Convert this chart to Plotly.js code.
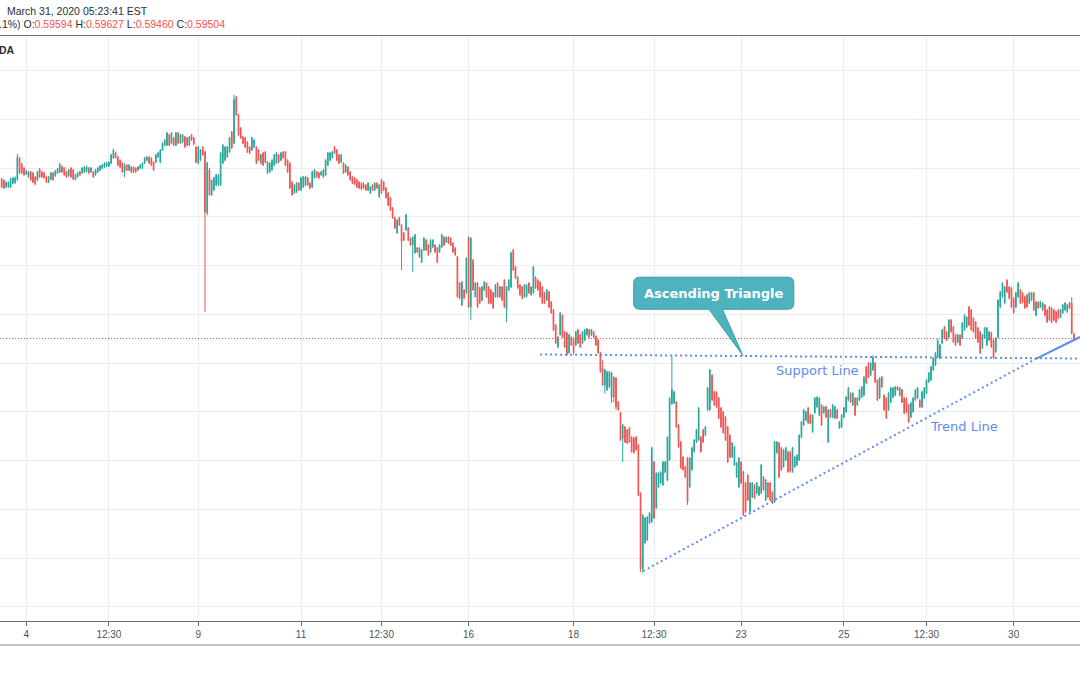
<!DOCTYPE html>
<html><head><meta charset="utf-8">
<script src="https://cdn.plot.ly/plotly-3.0.1.min.js"></script>
<style>html,body{margin:0;padding:0;background:#fff;}#chart{width:1080px;height:675px;}</style>
</head><body><div id="chart"></div>
<script>
// NZD/USD hourly candles (OANDA), early to 31 March 2020
const openPrice = [
0.6278,0.6275,0.6261,0.6262,0.6261,0.6269,0.6270,0.6276,0.6320,0.6308,
0.6300,0.6288,0.6282,0.6292,0.6290,0.6282,0.6275,0.6298,0.6292,0.6290,
0.6282,0.6271,0.6277,0.6290,0.6284,0.6290,0.6292,0.6302,0.6300,0.6292,
0.6284,0.6300,0.6296,0.6277,0.6282,0.6292,0.6290,0.6292,0.6293,0.6300,
0.6292,0.6292,0.6286,0.6292,0.6296,0.6300,0.6302,0.6304,0.6304,0.6310,
0.6321,0.6331,0.6323,0.6316,0.6310,0.6292,0.6306,0.6296,0.6302,0.6301,
0.6300,0.6296,0.6300,0.6300,0.6310,0.6316,0.6322,0.6320,0.6312,0.6312,
0.6323,0.6312,0.6337,0.6347,0.6347,0.6368,0.6351,0.6362,0.6347,0.6372,
0.6351,0.6353,0.6364,0.6362,0.6347,0.6368,0.6362,0.6343,0.6310,0.6316,
0.6343,0.6333,0.6208,0.6296,0.6245,0.6255,0.6265,0.6267,0.6265,0.6310,
0.6316,0.6323,0.6333,0.6374,0.6351,0.6446,0.6409,0.6382,0.6364,0.6362,
0.6353,0.6343,0.6337,0.6343,0.6343,0.6337,0.6310,0.6331,0.6333,0.6290,
0.6292,0.6296,0.6306,0.6310,0.6327,0.6316,0.6333,0.6333,0.6316,0.6310,
0.6271,0.6249,0.6251,0.6269,0.6255,0.6261,0.6265,0.6280,0.6269,0.6261,
0.6280,0.6292,0.6290,0.6286,0.6282,0.6286,0.6306,0.6316,0.6321,0.6343,
0.6337,0.6327,0.6312,0.6310,0.6292,0.6302,0.6292,0.6282,0.6280,0.6276,
0.6271,0.6269,0.6268,0.6265,0.6255,0.6249,0.6265,0.6255,0.6269,0.6241,
0.6276,0.6271,0.6259,0.6249,0.6239,0.6218,0.6198,0.6167,0.6198,0.6183,
0.6167,0.6173,0.6177,0.6156,0.6142,0.6126,0.6136,0.6118,0.6107,0.6132,
0.6152,0.6142,0.6128,0.6138,0.6142,0.6136,0.6128,0.6138,0.6158,0.6148,
0.6158,0.6156,0.6146,0.6136,0.6118,0.6064,0.6019,0.6050,0.6044,0.6158,
0.6015,0.6111,0.6036,0.6064,0.6054,0.6029,0.6050,0.6064,0.6056,0.6050,
0.6044,0.6036,0.6064,0.6036,0.6056,0.6070,0.6010,0.6050,0.6056,0.6132,
0.6097,0.6076,0.6060,0.6056,0.6036,0.6037,0.6064,0.6040,0.6044,0.6076,
0.6070,0.6066,0.6056,0.6044,0.6029,0.6046,0.6025,0.6009,0.5978,0.5933,
0.5958,0.5998,0.5964,0.5962,0.5921,0.5953,0.5951,0.5937,0.5968,0.5958,
0.5941,0.5947,0.5958,0.5968,0.5957,0.5964,0.5955,0.5947,0.5921,0.5890,
0.5855,0.5845,0.5851,0.5830,0.5871,0.5869,0.5820,0.5798,0.5745,0.5769,
0.5763,0.5767,0.5748,0.5746,0.5748,0.5732,0.5633,0.5478,0.5531,0.5537,
0.5572,0.5574,0.5697,0.5603,0.5646,0.5654,0.5650,0.5676,0.5660,0.5701,
0.5816,0.5818,0.5820,0.5773,0.5738,0.5707,0.5687,0.5705,0.5646,0.5681,
0.5718,0.5738,0.5742,0.5748,0.5763,0.5752,0.5804,0.5804,0.5875,0.5841,
0.5840,0.5828,0.5808,0.5800,0.5789,0.5769,0.5752,0.5707,0.5691,0.5666,
0.5646,0.5697,0.5677,0.5654,0.5670,0.5595,0.5625,0.5650,0.5633,0.5629,
0.5633,0.5666,0.5619,0.5654,0.5654,0.5635,0.5615,0.5716,0.5736,0.5726,
0.5687,0.5701,0.5718,0.5716,0.5677,0.5687,0.5691,0.5701,0.5748,0.5773,
0.5783,0.5808,0.5793,0.5759,0.5798,0.5810,0.5793,0.5814,0.5798,0.5810,
0.5738,0.5804,0.5789,0.5787,0.5804,0.5767,0.5769,0.5789,0.5800,0.5824,
0.5838,0.5814,0.5828,0.5814,0.5824,0.5830,0.5834,0.5892,0.5900,0.5875,
0.5886,0.5900,0.5865,0.5828,0.5871,0.5834,0.5828,0.5804,0.5820,0.5830,
0.5834,0.5851,0.5834,0.5845,0.5828,0.5826,0.5814,0.5789,0.5800,0.5824,
0.5828,0.5824,0.5810,0.5828,0.5838,0.5861,0.5865,0.5886,0.5896,0.5912,
0.5910,0.5941,0.5974,0.5964,0.5953,0.5988,0.5974,0.5958,0.5943,0.5957,
0.5951,0.5968,0.5974,0.6015,0.6009,0.5992,0.5984,0.5972,0.5964,0.5931,
0.5951,0.5937,0.5947,0.5962,0.5947,0.5923,0.5953,0.6015,0.6036,0.6023,
0.6070,0.6056,0.6054,0.6033,0.6015,0.6036,0.6050,0.6044,0.6036,0.6040,
0.6023,0.6029,0.6044,0.5998,0.6025,0.6015,0.6009,0.6019,0.6009,0.6015,
0.6013,0.6009,0.6005,0.6009,0.5994,0.6003,0.6009,0.6005,0.6023,0.6023,
0.59594];
const highPrice = [
0.6280,0.6277,0.6273,0.6273,0.6280,0.6282,0.6283,0.6329,0.6323,0.6311,
0.6302,0.6296,0.6294,0.6294,0.6292,0.6284,0.6294,0.6300,0.6294,0.6292,
0.6284,0.6284,0.6292,0.6292,0.6296,0.6300,0.6310,0.6306,0.6302,0.6294,
0.6298,0.6302,0.6298,0.6288,0.6292,0.6294,0.6302,0.6304,0.6305,0.6302,
0.6302,0.6294,0.6298,0.6302,0.6306,0.6308,0.6312,0.6313,0.6314,0.6329,
0.6340,0.6334,0.6325,0.6318,0.6312,0.6310,0.6308,0.6308,0.6304,0.6304,
0.6302,0.6304,0.6308,0.6312,0.6323,0.6325,0.6325,0.6322,0.6314,0.6329,
0.6333,0.6339,0.6353,0.6360,0.6374,0.6370,0.6374,0.6364,0.6374,0.6374,
0.6370,0.6370,0.6366,0.6364,0.6366,0.6370,0.6364,0.6345,0.6345,0.6339,
0.6345,0.6336,0.6313,0.6300,0.6277,0.6282,0.6288,0.6288,0.6333,0.6349,
0.6345,0.6345,0.6364,0.6376,0.6450,0.6448,0.6411,0.6384,0.6366,0.6364,
0.6355,0.6345,0.6364,0.6360,0.6345,0.6339,0.6329,0.6333,0.6335,0.6314,
0.6312,0.6318,0.6329,0.6333,0.6329,0.6333,0.6335,0.6335,0.6318,0.6312,
0.6273,0.6267,0.6271,0.6271,0.6282,0.6284,0.6284,0.6282,0.6271,0.6294,
0.6298,0.6294,0.6292,0.6294,0.6298,0.6318,0.6333,0.6333,0.6335,0.6345,
0.6339,0.6329,0.6329,0.6312,0.6308,0.6304,0.6294,0.6284,0.6282,0.6278,
0.6273,0.6271,0.6271,0.6267,0.6271,0.6263,0.6267,0.6271,0.6271,0.6267,
0.6278,0.6273,0.6261,0.6251,0.6241,0.6220,0.6200,0.6195,0.6200,0.6185,
0.6169,0.6206,0.6179,0.6158,0.6160,0.6165,0.6138,0.6138,0.6134,0.6158,
0.6154,0.6144,0.6154,0.6154,0.6144,0.6138,0.6144,0.6165,0.6160,0.6160,
0.6160,0.6158,0.6148,0.6138,0.6120,0.6066,0.6068,0.6052,0.6117,0.6160,
0.6158,0.6113,0.6066,0.6066,0.6056,0.6058,0.6068,0.6066,0.6058,0.6052,
0.6046,0.6062,0.6066,0.6058,0.6058,0.6072,0.6058,0.6072,0.6128,0.6134,
0.6099,0.6078,0.6062,0.6058,0.6062,0.6062,0.6066,0.6058,0.6099,0.6078,
0.6072,0.6068,0.6058,0.6046,0.6052,0.6048,0.6027,0.6011,0.5980,0.5955,
0.6005,0.6000,0.5966,0.5964,0.5960,0.5955,0.5953,0.5966,0.5970,0.5960,
0.5966,0.5970,0.5972,0.5970,0.5970,0.5966,0.5957,0.5949,0.5923,0.5906,
0.5888,0.5884,0.5884,0.5882,0.5873,0.5871,0.5822,0.5800,0.5775,0.5771,
0.5765,0.5769,0.5750,0.5748,0.5750,0.5734,0.5635,0.5590,0.5584,0.5586,
0.5594,0.5728,0.5699,0.5676,0.5676,0.5678,0.5699,0.5699,0.5750,0.5830,
0.5916,0.5843,0.5822,0.5775,0.5740,0.5709,0.5689,0.5707,0.5707,0.5728,
0.5744,0.5765,0.5810,0.5750,0.5765,0.5771,0.5851,0.5888,0.5877,0.5843,
0.5842,0.5830,0.5810,0.5802,0.5791,0.5771,0.5754,0.5738,0.5730,0.5697,
0.5707,0.5699,0.5679,0.5656,0.5672,0.5656,0.5656,0.5652,0.5656,0.5648,
0.5693,0.5668,0.5662,0.5656,0.5656,0.5637,0.5740,0.5740,0.5738,0.5728,
0.5724,0.5728,0.5720,0.5720,0.5728,0.5709,0.5713,0.5754,0.5781,0.5806,
0.5802,0.5810,0.5795,0.5795,0.5830,0.5832,0.5830,0.5816,0.5812,0.5812,
0.5806,0.5806,0.5816,0.5812,0.5806,0.5781,0.5795,0.5810,0.5832,0.5851,
0.5840,0.5840,0.5830,0.5830,0.5847,0.5853,0.5873,0.5894,0.5902,0.5902,
0.5916,0.5902,0.5867,0.5871,0.5873,0.5836,0.5830,0.5840,0.5851,0.5851,
0.5853,0.5853,0.5851,0.5847,0.5830,0.5830,0.5816,0.5820,0.5830,0.5847,
0.5851,0.5826,0.5843,0.5851,0.5867,0.5882,0.5894,0.5912,0.5923,0.5949,
0.5939,0.5970,0.5976,0.5966,0.5990,0.5990,0.5976,0.5960,0.5960,0.5959,
0.5984,0.6000,0.5996,0.6017,0.6011,0.5994,0.5986,0.5974,0.5966,0.5960,
0.5974,0.5974,0.5966,0.5964,0.5949,0.5953,0.6031,0.6048,0.6066,0.6058,
0.6072,0.6058,0.6056,0.6035,0.6046,0.6066,0.6052,0.6046,0.6038,0.6042,
0.6046,0.6046,0.6046,0.6027,0.6027,0.6027,0.6025,0.6021,0.6011,0.6017,
0.6015,0.6011,0.6007,0.6011,0.6011,0.6021,0.6025,0.6021,0.6025,0.6035,
0.59627];
const lowPrice = [
0.6259,0.6257,0.6259,0.6259,0.6259,0.6267,0.6267,0.6274,0.6288,0.6288,
0.6284,0.6286,0.6280,0.6274,0.6269,0.6265,0.6273,0.6280,0.6280,0.6278,
0.6269,0.6269,0.6275,0.6274,0.6282,0.6288,0.6290,0.6290,0.6284,0.6280,
0.6282,0.6280,0.6275,0.6275,0.6280,0.6284,0.6288,0.6290,0.6291,0.6288,
0.6290,0.6280,0.6284,0.6290,0.6294,0.6298,0.6300,0.6302,0.6302,0.6308,
0.6319,0.6319,0.6304,0.6300,0.6290,0.6281,0.6294,0.6294,0.6290,0.6290,
0.6290,0.6294,0.6298,0.6298,0.6308,0.6314,0.6308,0.6304,0.6294,0.6310,
0.6321,0.6310,0.6335,0.6345,0.6345,0.6345,0.6349,0.6345,0.6345,0.6349,
0.6349,0.6351,0.6341,0.6345,0.6345,0.6356,0.6347,0.6310,0.6308,0.6314,
0.6325,0.6005,0.6203,0.6243,0.6243,0.6253,0.6263,0.6263,0.6263,0.6308,
0.6314,0.6321,0.6331,0.6339,0.6349,0.6407,0.6366,0.6360,0.6349,0.6341,
0.6331,0.6329,0.6335,0.6341,0.6308,0.6314,0.6308,0.6304,0.6310,0.6288,
0.6290,0.6294,0.6304,0.6308,0.6310,0.6314,0.6319,0.6304,0.6290,0.6257,
0.6243,0.6247,0.6249,0.6253,0.6253,0.6259,0.6263,0.6263,0.6257,0.6259,
0.6278,0.6280,0.6278,0.6284,0.6280,0.6284,0.6304,0.6314,0.6319,0.6329,
0.6314,0.6308,0.6310,0.6288,0.6290,0.6284,0.6274,0.6267,0.6265,0.6259,
0.6257,0.6255,0.6257,0.6253,0.6253,0.6247,0.6253,0.6253,0.6257,0.6239,
0.6247,0.6253,0.6237,0.6222,0.6212,0.6196,0.6175,0.6165,0.6181,0.6091,
0.6150,0.6171,0.6150,0.6140,0.6087,0.6124,0.6126,0.6116,0.6105,0.6130,
0.6130,0.6120,0.6126,0.6136,0.6126,0.6105,0.6126,0.6136,0.6140,0.6146,
0.6144,0.6140,0.6126,0.6120,0.6034,0.6031,0.6017,0.6031,0.6042,0.6013,
0.5988,0.6048,0.6034,0.6013,0.6021,0.6027,0.6048,0.6034,0.6021,0.6021,
0.6011,0.6034,0.6034,0.6034,0.6027,0.6013,0.5984,0.6048,0.6054,0.6089,
0.6072,0.6052,0.6038,0.6031,0.6034,0.6034,0.6042,0.6038,0.6042,0.6052,
0.6048,0.6034,0.6021,0.6021,0.6027,0.6013,0.6001,0.5966,0.5939,0.5931,
0.5956,0.5951,0.5931,0.5915,0.5919,0.5935,0.5917,0.5935,0.5939,0.5931,
0.5939,0.5945,0.5956,0.5951,0.5955,0.5951,0.5935,0.5919,0.5880,0.5853,
0.5838,0.5843,0.5849,0.5818,0.5820,0.5804,0.5802,0.5740,0.5697,0.5736,
0.5734,0.5736,0.5716,0.5714,0.5720,0.5627,0.5471,0.5469,0.5529,0.5535,
0.5570,0.5572,0.5580,0.5601,0.5644,0.5652,0.5648,0.5674,0.5658,0.5699,
0.5814,0.5816,0.5767,0.5726,0.5683,0.5679,0.5664,0.5609,0.5644,0.5679,
0.5716,0.5736,0.5740,0.5716,0.5736,0.5750,0.5802,0.5802,0.5822,0.5812,
0.5808,0.5785,0.5767,0.5755,0.5740,0.5695,0.5705,0.5705,0.5689,0.5664,
0.5644,0.5652,0.5586,0.5593,0.5617,0.5593,0.5623,0.5621,0.5631,0.5627,
0.5631,0.5638,0.5617,0.5623,0.5617,0.5611,0.5613,0.5714,0.5664,0.5679,
0.5685,0.5699,0.5675,0.5675,0.5675,0.5685,0.5689,0.5699,0.5746,0.5771,
0.5781,0.5775,0.5775,0.5757,0.5796,0.5808,0.5791,0.5771,0.5796,0.5787,
0.5736,0.5787,0.5787,0.5785,0.5785,0.5765,0.5767,0.5787,0.5798,0.5822,
0.5818,0.5812,0.5791,0.5812,0.5822,0.5828,0.5832,0.5857,0.5869,0.5873,
0.5884,0.5859,0.5822,0.5826,0.5849,0.5802,0.5785,0.5802,0.5818,0.5828,
0.5832,0.5843,0.5832,0.5818,0.5795,0.5797,0.5777,0.5787,0.5798,0.5822,
0.5826,0.5808,0.5808,0.5826,0.5836,0.5859,0.5863,0.5884,0.5894,0.5910,
0.5908,0.5939,0.5949,0.5945,0.5951,0.5962,0.5941,0.5935,0.5941,0.5935,
0.5949,0.5966,0.5972,0.5976,0.5966,0.5962,0.5949,0.5941,0.5919,0.5929,
0.5949,0.5935,0.5945,0.5931,0.5908,0.5921,0.5951,0.6013,0.6034,0.6021,
0.6044,0.6031,0.6013,0.6001,0.6013,0.6034,0.6021,0.6023,0.6011,0.6013,
0.6021,0.6027,0.6007,0.5996,0.6011,0.6013,0.6007,0.5996,0.5982,0.5986,
0.5982,0.5986,0.5982,0.5990,0.5992,0.6001,0.6007,0.6003,0.6011,0.5959,
0.59460];
const closePrice = [
0.6261,0.6259,0.6271,0.6270,0.6278,0.6280,0.6279,0.6322,0.6290,0.6290,
0.6286,0.6294,0.6292,0.6276,0.6271,0.6267,0.6292,0.6282,0.6282,0.6280,
0.6271,0.6282,0.6290,0.6276,0.6294,0.6298,0.6308,0.6292,0.6286,0.6282,
0.6296,0.6282,0.6277,0.6286,0.6290,0.6286,0.6300,0.6302,0.6302,0.6290,
0.6300,0.6282,0.6296,0.6300,0.6304,0.6306,0.6310,0.6310,0.6312,0.6327,
0.6337,0.6321,0.6306,0.6302,0.6292,0.6306,0.6296,0.6306,0.6292,0.6293,
0.6292,0.6302,0.6306,0.6310,0.6321,0.6322,0.6310,0.6306,0.6296,0.6327,
0.6331,0.6337,0.6351,0.6357,0.6372,0.6347,0.6372,0.6347,0.6372,0.6351,
0.6368,0.6368,0.6343,0.6347,0.6364,0.6358,0.6349,0.6312,0.6343,0.6337,
0.6327,0.6210,0.6310,0.6245,0.6275,0.6280,0.6286,0.6285,0.6331,0.6347,
0.6343,0.6343,0.6362,0.6341,0.6440,0.6409,0.6368,0.6362,0.6351,0.6343,
0.6333,0.6331,0.6362,0.6357,0.6310,0.6316,0.6327,0.6306,0.6312,0.6312,
0.6310,0.6316,0.6327,0.6331,0.6312,0.6331,0.6321,0.6306,0.6292,0.6259,
0.6245,0.6265,0.6269,0.6255,0.6280,0.6282,0.6282,0.6265,0.6259,0.6292,
0.6296,0.6282,0.6280,0.6292,0.6296,0.6316,0.6331,0.6331,0.6333,0.6331,
0.6316,0.6310,0.6327,0.6290,0.6306,0.6286,0.6276,0.6269,0.6267,0.6261,
0.6259,0.6257,0.6259,0.6255,0.6269,0.6261,0.6255,0.6269,0.6259,0.6265,
0.6249,0.6255,0.6239,0.6224,0.6214,0.6198,0.6177,0.6193,0.6183,0.6150,
0.6152,0.6204,0.6152,0.6142,0.6158,0.6163,0.6128,0.6136,0.6132,0.6156,
0.6132,0.6122,0.6152,0.6152,0.6128,0.6107,0.6142,0.6163,0.6142,0.6158,
0.6146,0.6142,0.6128,0.6122,0.6036,0.6033,0.6066,0.6033,0.6115,0.6015,
0.6156,0.6050,0.6064,0.6015,0.6023,0.6056,0.6066,0.6036,0.6023,0.6023,
0.6013,0.6060,0.6036,0.6056,0.6029,0.6015,0.6056,0.6070,0.6126,0.6091,
0.6074,0.6054,0.6040,0.6033,0.6060,0.6059,0.6044,0.6056,0.6097,0.6054,
0.6050,0.6036,0.6023,0.6023,0.6050,0.6015,0.6003,0.5968,0.5941,0.5953,
0.6002,0.5953,0.5933,0.5917,0.5958,0.5937,0.5921,0.5964,0.5941,0.5933,
0.5964,0.5968,0.5970,0.5953,0.5968,0.5953,0.5937,0.5921,0.5882,0.5855,
0.5886,0.5882,0.5882,0.5880,0.5830,0.5810,0.5804,0.5742,0.5773,0.5738,
0.5736,0.5738,0.5718,0.5716,0.5722,0.5629,0.5478,0.5588,0.5582,0.5584,
0.5592,0.5726,0.5582,0.5674,0.5674,0.5676,0.5697,0.5697,0.5748,0.5828,
0.5846,0.5841,0.5769,0.5728,0.5685,0.5681,0.5666,0.5615,0.5705,0.5726,
0.5742,0.5763,0.5808,0.5718,0.5738,0.5769,0.5849,0.5886,0.5824,0.5814,
0.5810,0.5787,0.5769,0.5757,0.5742,0.5697,0.5707,0.5736,0.5728,0.5695,
0.5705,0.5654,0.5588,0.5595,0.5619,0.5654,0.5654,0.5623,0.5654,0.5646,
0.5691,0.5640,0.5660,0.5625,0.5619,0.5613,0.5738,0.5738,0.5666,0.5681,
0.5722,0.5726,0.5677,0.5679,0.5726,0.5707,0.5711,0.5752,0.5779,0.5804,
0.5800,0.5777,0.5777,0.5793,0.5828,0.5830,0.5828,0.5773,0.5810,0.5789,
0.5804,0.5789,0.5814,0.5810,0.5787,0.5779,0.5793,0.5808,0.5830,0.5849,
0.5820,0.5838,0.5793,0.5828,0.5845,0.5851,0.5871,0.5859,0.5871,0.5900,
0.5912,0.5861,0.5824,0.5869,0.5851,0.5804,0.5787,0.5838,0.5849,0.5849,
0.5851,0.5845,0.5849,0.5820,0.5797,0.5800,0.5779,0.5818,0.5828,0.5845,
0.5849,0.5810,0.5841,0.5849,0.5865,0.5880,0.5892,0.5910,0.5921,0.5947,
0.5937,0.5968,0.5951,0.5947,0.5988,0.5964,0.5943,0.5937,0.5958,0.5937,
0.5982,0.5998,0.5994,0.5978,0.5968,0.5964,0.5951,0.5943,0.5921,0.5958,
0.5972,0.5972,0.5964,0.5933,0.5910,0.5951,0.6029,0.6046,0.6064,0.6056,
0.6046,0.6033,0.6015,0.6003,0.6044,0.6064,0.6023,0.6025,0.6013,0.6015,
0.6044,0.6044,0.6009,0.6025,0.6013,0.6025,0.6023,0.5998,0.5984,0.5988,
0.5984,0.5988,0.5984,0.5992,0.6009,0.6019,0.6023,0.6019,0.6013,0.5961,
0.59504];

// x-axis labels (positions are bar numbers)
const tickBars = [11, 48, 88, 134, 170, 209, 256, 292, 331, 377, 414, 453];
const tickLabels = ['4', '12:30', '9', '11', '12:30', '16', '18', '12:30', '23', '25', '12:30', '30'];

// drawn lines (bar number, price)
const supportBars = [241, 482.7];
const supportPrices = [0.59175, 0.59093];
const trendBars = [287.2, 463.4];
const trendPrices = [0.54734, 0.59097];
const trendRayBars = [463.4, 482.7];
const trendRayPrices = [0.59097, 0.59534];

// ---------- build ----------
const barIndex = openPrice.map((_, i) => i);
const xRange = [-0.76, 482.7];
const lastClose = closePrice[closePrice.length - 1];
const blue = '#5b8def';

const traces = [
  {
    type: 'candlestick', x: barIndex,
    open: openPrice, high: highPrice, low: lowPrice, close: closePrice,
    increasing: {line: {color: '#26a69a', width: 1}, fillcolor: '#26a69a'},
    decreasing: {line: {color: '#ef5350', width: 1}, fillcolor: '#ef5350'},
    whiskerwidth: 0, hoverinfo: 'skip', showlegend: false
  },
  {type: 'scatter', mode: 'lines', x: xRange, y: [lastClose, lastClose],
   line: {color: '#ef5350', width: 1, dash: '1px,2px'}, hoverinfo: 'skip', showlegend: false},
  {type: 'scatter', mode: 'lines', x: supportBars, y: supportPrices,
   line: {color: blue, width: 2, dash: '2px,3px'}, hoverinfo: 'skip', showlegend: false},
  {type: 'scatter', mode: 'lines', x: trendBars, y: trendPrices,
   line: {color: blue, width: 2, dash: '2px,3px'}, hoverinfo: 'skip', showlegend: false},
  {type: 'scatter', mode: 'lines', x: trendRayBars, y: trendRayPrices,
   line: {color: blue, width: 2}, hoverinfo: 'skip', showlegend: false}
];

// callout box with pointer (bar number / price coordinates)
const cb = {x0: 282.9, x1: 354.6, yTop: 0.60761, yBot: 0.60104, rx: 2.7, ry: 0.00123,
            tailL: 316.6, tailR: 322.6, tipX: 331.8, tipY: 0.59155};
const calloutPath =
  `M ${cb.x0 + cb.rx},${cb.yTop} L ${cb.x1 - cb.rx},${cb.yTop} ` +
  `Q ${cb.x1},${cb.yTop} ${cb.x1},${cb.yTop - cb.ry} L ${cb.x1},${cb.yBot + cb.ry} ` +
  `Q ${cb.x1},${cb.yBot} ${cb.x1 - cb.rx},${cb.yBot} L ${cb.tailR},${cb.yBot} ` +
  `L ${cb.tipX},${cb.tipY} L ${cb.tailL},${cb.yBot} L ${cb.x0 + cb.rx},${cb.yBot} ` +
  `Q ${cb.x0},${cb.yBot} ${cb.x0},${cb.yBot + cb.ry} L ${cb.x0},${cb.yTop - cb.ry} ` +
  `Q ${cb.x0},${cb.yTop} ${cb.x0 + cb.rx},${cb.yTop} Z`;

const red = (t) => `<span style="color:#ef5350">${t}</span>`;
const hdrFont = {family: 'Liberation Sans, Arial, sans-serif', size: 10.5, color: '#2a2e39'};

const layout = {
  width: 1080, height: 675,
  margin: {l: 0, r: 0, t: 36, b: 54},
  paper_bgcolor: '#ffffff', plot_bgcolor: '#ffffff',
  showlegend: false,
  boxgap: 0.55,
  xaxis: {
    range: xRange, tickmode: 'array', tickvals: tickBars, ticktext: tickLabels,
    showgrid: true, gridcolor: '#e7edf2', gridwidth: 1, zeroline: false,
    showline: true, linecolor: '#6a6d78', linewidth: 1, mirror: true,
    ticks: 'outside', ticklen: 4, tickcolor: '#6a6d78',
    tickfont: {family: 'Liberation Sans, Arial, sans-serif', size: 10, color: '#50535e'},
    rangeslider: {visible: false}, fixedrange: true
  },
  yaxis: {
    range: [0.53708, 0.65709], tick0: 0.5, dtick: 0.01,
    showticklabels: false, showgrid: true, gridcolor: '#e7edf2', gridwidth: 1,
    zeroline: false, showline: false, ticks: '', fixedrange: true
  },
  shapes: [
    {type: 'path', xref: 'x', yref: 'y', path: calloutPath,
     fillcolor: '#4db3be', line: {color: '#3a9fa9', width: 1}, layer: 'above'},
    {type: 'line', xref: 'paper', yref: 'paper', x0: 0, x1: 1, y0: -0.041, y1: -0.041,
     line: {color: '#8a8d96', width: 1}}
  ],
  annotations: [
    {xref: 'paper', yref: 'paper', x: 0.005, y: 1.0433, xanchor: 'left', yanchor: 'middle',
     showarrow: false, text: 'March 31, 2020 05:23:41 EST', font: hdrFont},
    {xref: 'paper', yref: 'paper', x: 0, y: 1.02, xanchor: 'left', yanchor: 'middle', xshift: -3,
     showarrow: false, font: hdrFont,
     text: `.1%) O:${red('0.59594')} H:${red('0.59627')} L:${red('0.59460')} C:${red('0.59504')}`},
    {xref: 'paper', yref: 'paper', x: 0, y: 0.976, xanchor: 'left', yanchor: 'middle', xshift: -3,
     showarrow: false, text: '<b>DA</b>', font: hdrFont},
    {xref: 'x', yref: 'y', x: (cb.x0 + cb.x1) / 2, y: (cb.yTop + cb.yBot) / 2,
     showarrow: false, text: '<b>Ascending Triangle</b>',
     font: {family: 'DejaVu Sans, Verdana, sans-serif', size: 13, color: '#ffffff'}},
    {xref: 'x', yref: 'y', x: 365.2, y: 0.58837, showarrow: false, text: 'Support Line',
     font: {family: 'DejaVu Sans, Verdana, sans-serif', size: 13, color: blue}},
    {xref: 'x', yref: 'y', x: 430.8, y: 0.57708, showarrow: false, text: 'Trend Line',
     font: {family: 'DejaVu Sans, Verdana, sans-serif', size: 13, color: blue}}
  ]
};

Plotly.newPlot('chart', traces, layout, {displayModeBar: false, staticPlot: true});
</script>
</body></html>
